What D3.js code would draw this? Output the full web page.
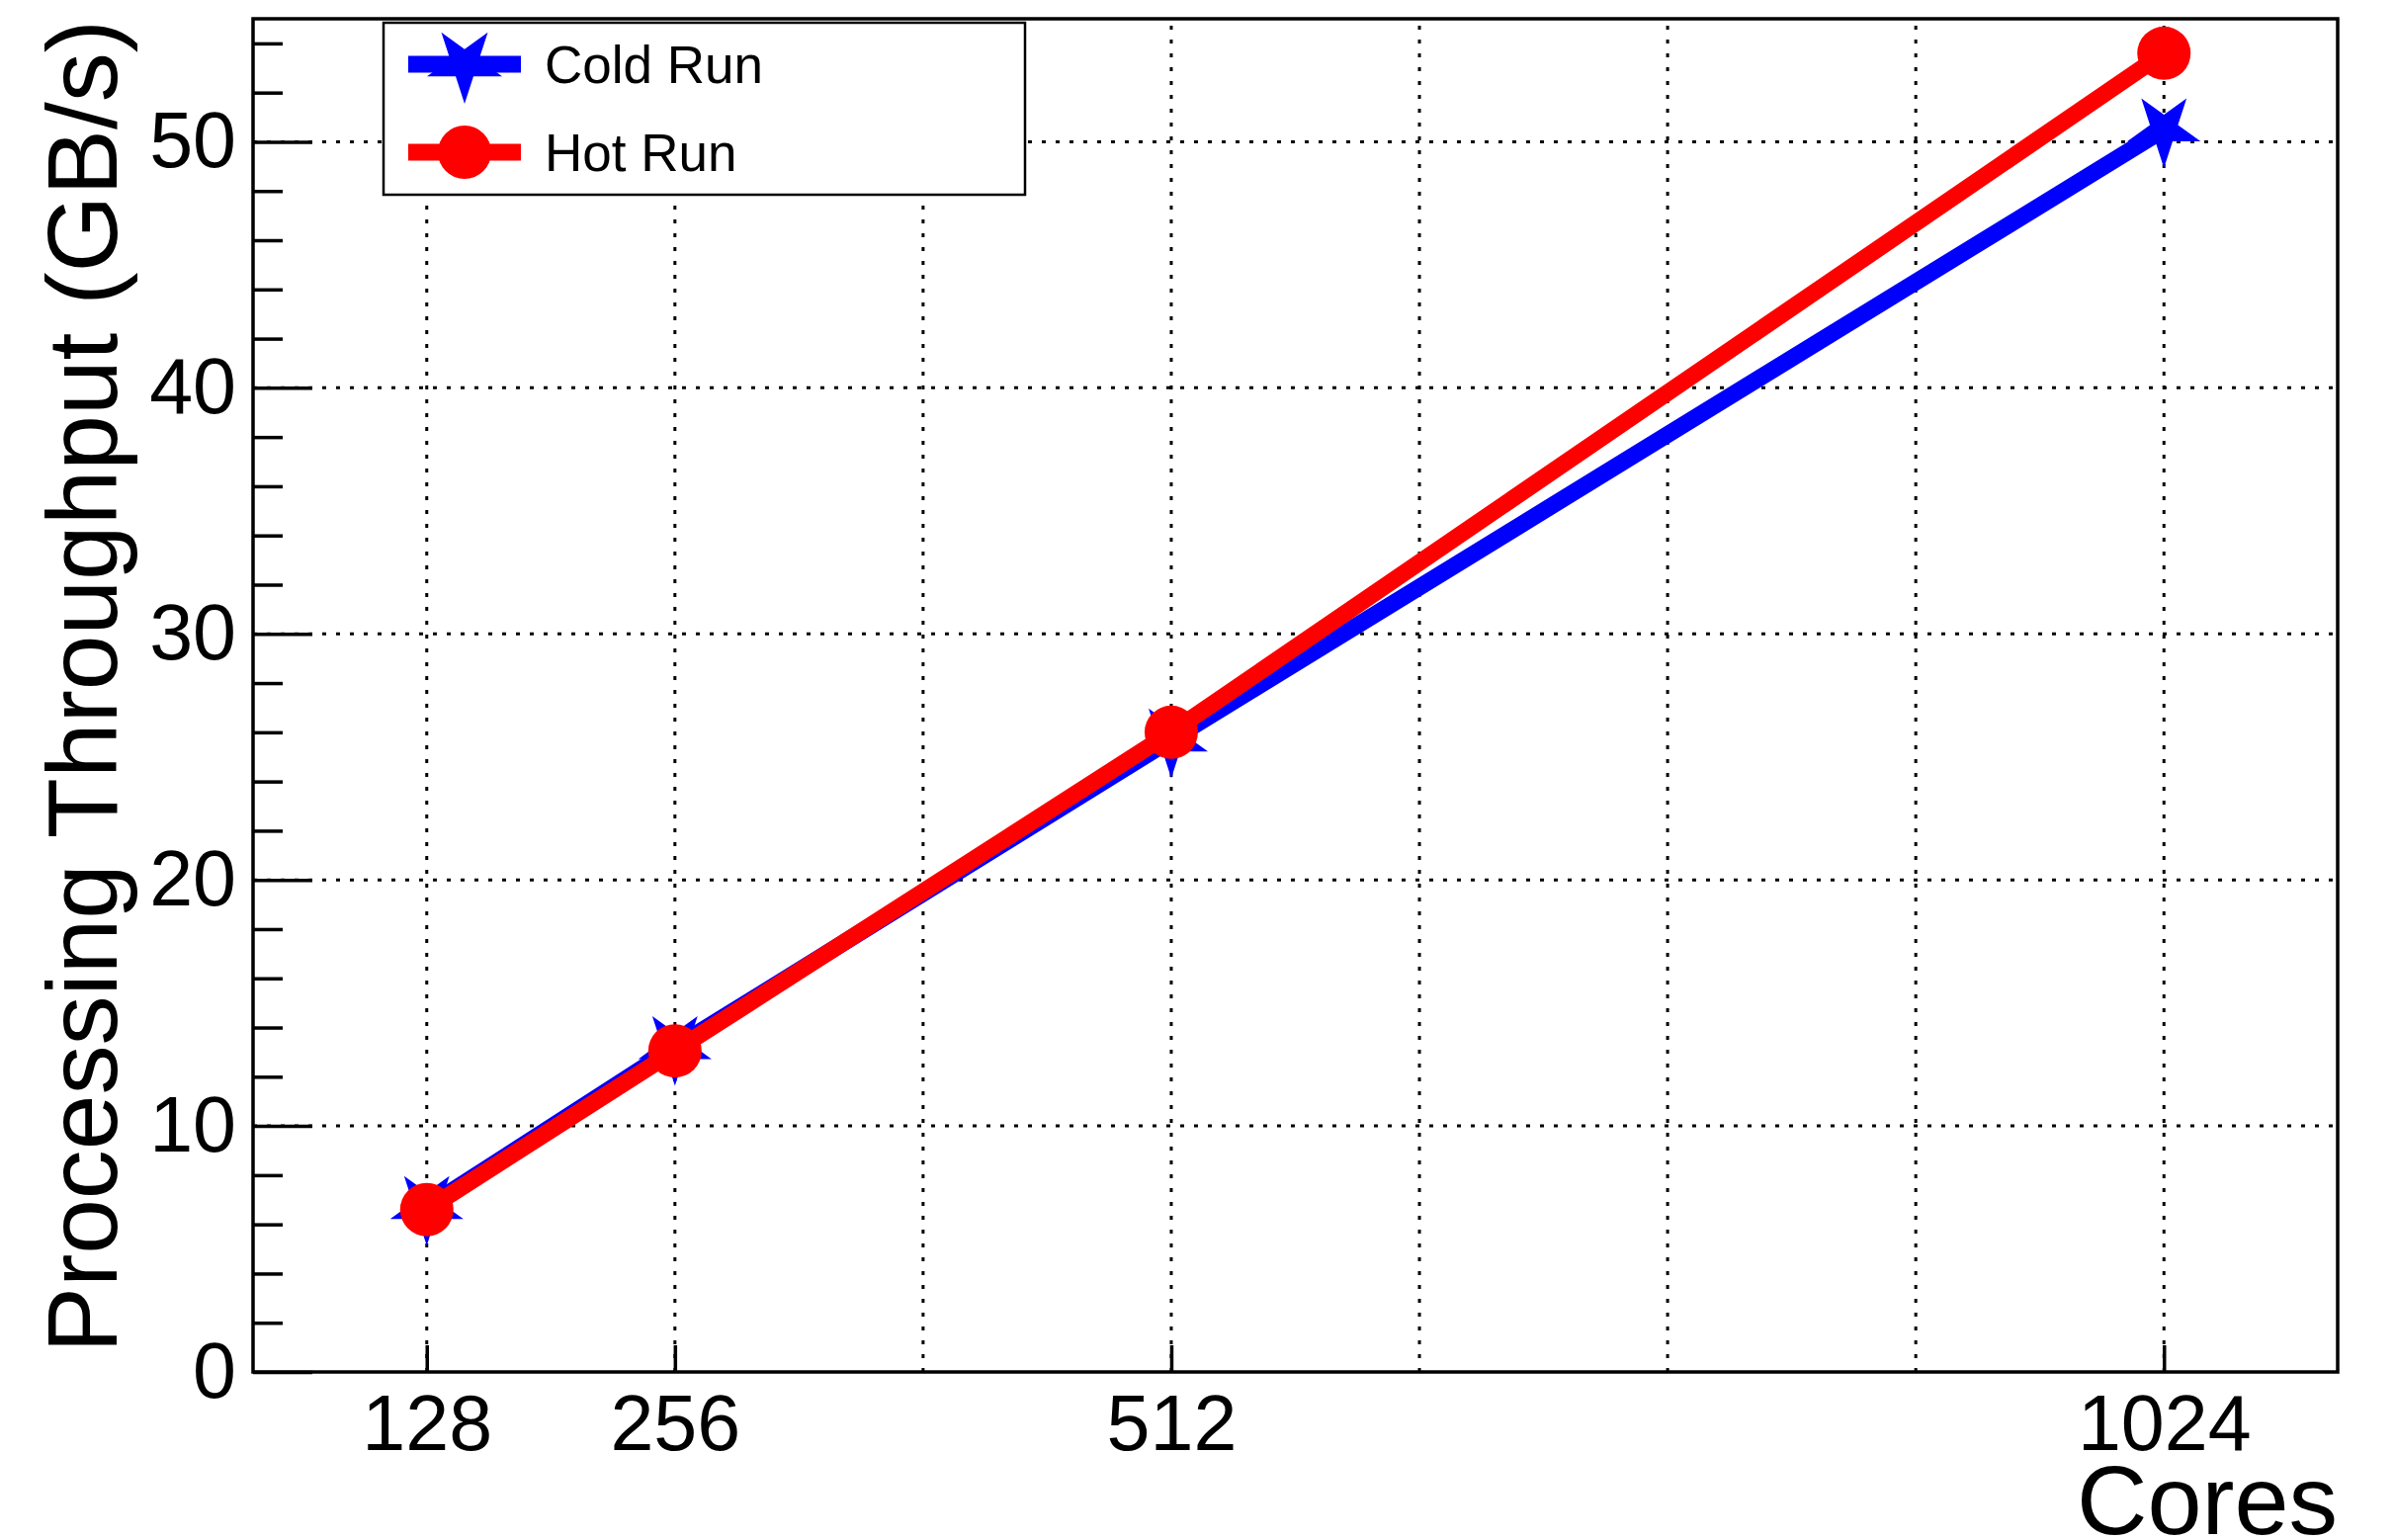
<html>
  <head>
    <meta charset="UTF-8" />
    <script src="https://cdnjs.cloudflare.com/ajax/libs/d3/7.8.5/d3.min.js"></script>
    <style>
      body { margin: 0; background: #fff; }
      text { font-family: "Liberation Sans", Arial, Helvetica, sans-serif; fill: #000; }
    </style>
  </head>
  <body>
    <div id="viz"><svg style="width:2423px;height:1558px;"></svg></div>
    <script>
      // values
      const cores = [128, 256, 512, 1024];
      const coldRun = [6.7, 13.2, 25.7, 50.5];
      const hotRun = [6.6, 13.05, 26.0, 53.6];
      const gridCores = [128, 256, 384, 512, 640, 768, 896, 1024];
      const yMajor = [0, 10, 20, 30, 40, 50];
      const yMinor = d3.range(0, 56, 2).filter(v => v % 10 !== 0);
      const seriesNames = ["Cold Run", "Hot Run"];

      let svg = d3.select("svg");

      // frame edges (window.top is taken, hence the prefix)
      let frameL = 256, frameR = 2365, frameT = 19, frameB = 1388;

      // ROOT-style padding: 10% of the data span on each side
      let span = cores[cores.length - 1] - cores[0];
      let x = d3
        .scaleLinear()
        .domain([cores[0] - 0.1 * span, cores[cores.length - 1] + 0.1 * span])
        .range([frameL, frameR]);

      let y = d3.scaleLinear().domain([0, 55]).range([frameB, frameT]);

      // dotted grid
      let grid = svg.append("g").attr("id", "grid");
      grid
        .selectAll(".vgrid")
        .data(gridCores)
        .enter()
        .append("line")
        .attr("x1", d => x(d))
        .attr("x2", d => x(d))
        .attr("y1", frameB)
        .attr("y2", frameT)
        .style("stroke", "#000")
        .style("stroke-width", 3)
        .style("stroke-dasharray", "4,10");

      grid
        .selectAll(".hgrid")
        .data(yMajor.filter(d => d > 0))
        .enter()
        .append("line")
        .attr("x1", frameL)
        .attr("x2", frameR)
        .attr("y1", d => y(d))
        .attr("y2", d => y(d))
        .style("stroke", "#000")
        .style("stroke-width", 3)
        .style("stroke-dasharray", "4,10");

      // axes, ticks pointing inward
      let yAxis = svg
        .append("g")
        .attr("transform", `translate(${frameL},0)`)
        .call(d3.axisLeft(y).tickValues(yMajor).tickSize(-60).tickPadding(17));
      yAxis.select(".domain").remove();
      yAxis.selectAll("line").style("stroke-width", 3.5);
      yAxis.selectAll("text").style("font-size", "79px");

      let yMinorAxis = svg
        .append("g")
        .attr("transform", `translate(${frameL},0)`)
        .call(d3.axisLeft(y).tickValues(yMinor).tickSize(-30).tickFormat(""));
      yMinorAxis.select(".domain").remove();
      yMinorAxis.selectAll("line").style("stroke-width", 3.5);

      let xAxis = svg
        .append("g")
        .attr("transform", `translate(0,${frameB})`)
        .call(
          d3
            .axisBottom(x)
            .tickValues(cores)
            .tickFormat(d3.format("d"))
            .tickSize(-27)
            .tickPadding(23)
        );
      xAxis.select(".domain").remove();
      xAxis.selectAll("line").style("stroke-width", 3.5);
      xAxis.selectAll("text").style("font-size", "79px");

      // frame
      svg
        .append("rect")
        .attr("x", frameL)
        .attr("y", frameT)
        .attr("width", frameR - frameL)
        .attr("height", frameB - frameT)
        .style("fill", "none")
        .style("stroke", "#000")
        .style("stroke-width", 3.5);

      // axis titles
      svg
        .append("text")
        .attr("x", frameR)
        .attr("y", 1552)
        .attr("text-anchor", "end")
        .style("font-size", "99px")
        .text("Cores");

      svg
        .append("text")
        .attr("transform", "translate(118,20) rotate(-90)")
        .attr("text-anchor", "end")
        .style("font-size", "100px")
        .text("Processing Throughput (GB/s)");

      // series
      let line = d3
        .line()
        .x(d => x(d[0]))
        .y(d => y(d[1]));

      let star = d3.symbol().type(d3.symbolStar).size(1707);

      let coldPts = cores.map((c, i) => [c, coldRun[i]]);
      let hotPts = cores.map((c, i) => [c, hotRun[i]]);

      let plot = svg.append("g").attr("id", "series");

      plot
        .append("path")
        .attr("d", line(coldPts))
        .style("fill", "none")
        .style("stroke", "#0000ff")
        .style("stroke-width", 17);

      plot
        .selectAll(".star")
        .data(coldPts)
        .enter()
        .append("path")
        .attr("class", "star")
        .attr("d", star)
        .attr("transform", d => `translate(${x(d[0])},${y(d[1])}) rotate(180)`)
        .style("fill", "#0000ff");

      plot
        .append("path")
        .attr("d", line(hotPts))
        .style("fill", "none")
        .style("stroke", "#ff0000")
        .style("stroke-width", 17);

      plot
        .selectAll(".dot")
        .data(hotPts)
        .enter()
        .append("circle")
        .attr("class", "dot")
        .attr("cx", d => x(d[0]))
        .attr("cy", d => y(d[1]))
        .attr("r", 27)
        .style("fill", "#ff0000");

      // legend
      let legend = svg.append("g").attr("id", "legend");
      legend
        .append("rect")
        .attr("x", 388)
        .attr("y", 23)
        .attr("width", 649)
        .attr("height", 174)
        .style("fill", "#fff")
        .style("stroke", "#000")
        .style("stroke-width", 2.5);

      let rows = legend
        .selectAll(".entry")
        .data(seriesNames)
        .enter()
        .append("g")
        .attr("class", "entry")
        .attr("transform", (d, i) => `translate(0,${65 + i * 89})`);

      rows
        .append("line")
        .attr("x1", 413)
        .attr("x2", 527)
        .style("stroke", (d, i) => (i === 0 ? "#0000ff" : "#ff0000"))
        .style("stroke-width", 17);

      rows
        .filter((d, i) => i === 0)
        .append("path")
        .attr("d", d3.symbol().type(d3.symbolStar).size(1796))
        .attr("transform", "translate(470,0) rotate(180)")
        .style("fill", "#0000ff");

      rows
        .filter((d, i) => i === 1)
        .append("circle")
        .attr("cx", 470)
        .attr("r", 27)
        .style("fill", "#ff0000");

      rows
        .append("text")
        .attr("x", 551)
        .attr("dy", "0.35em")
        .style("font-size", "53px")
        .text(d => d);
    </script>
  </body>
</html>
